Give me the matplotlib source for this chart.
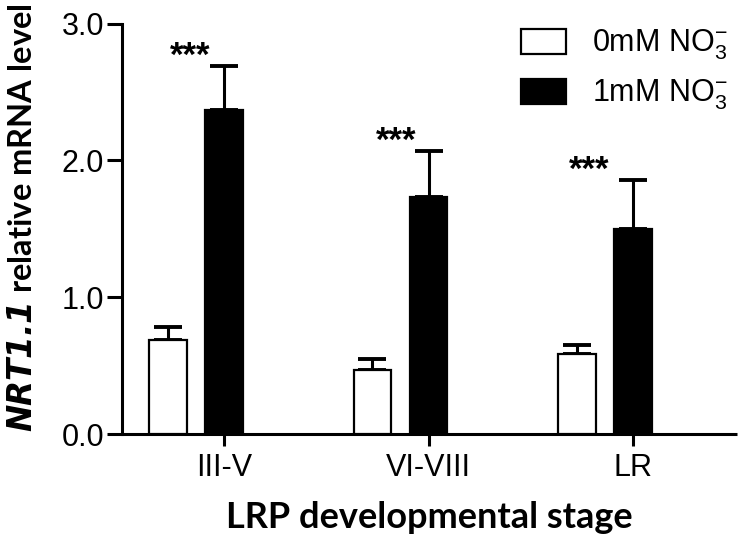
import matplotlib
matplotlib.use("Agg")
import matplotlib.pyplot as plt
import numpy as np

categories = ["III-V", "VI-VIII", "LR"]
series_names = [r"0mM NO$_3^{-}$", r"1mM NO$_3^{-}$"]
means_0mM = [0.69, 0.47, 0.59]
err_0mM = [0.09, 0.08, 0.06]
means_1mM = [2.37, 1.73, 1.50]
err_1mM = [0.32, 0.34, 0.36]
sig_labels = ["***", "***", "***"]
yticks = [0.0, 1.0, 2.0, 3.0]
ytick_labels = ["0.0", "1.0", "2.0", "3.0"]

plt.rcParams["font.family"] = ["Liberation Sans", "DejaVu Sans"]
plt.rcParams["mathtext.fontset"] = "custom"
plt.rcParams["mathtext.rm"] = "Liberation Sans"
plt.rcParams["mathtext.it"] = "Liberation Sans:italic"

fig = plt.figure(figsize=(7.47, 5.43), dpi=100)
ax = fig.add_axes([121.7 / 747, 1 - 434.3 / 543, (737 - 121.7) / 747, (434.3 - 23.5) / 543])

x = np.arange(len(categories))
w = 0.183
off = 0.274
lw = 2.2

ax.bar(x - off, means_0mM, width=w, color="white", edgecolor="black", linewidth=1.6,
       label=series_names[0], zorder=3)
ax.bar(x, means_1mM, width=w, color="black", edgecolor="black", linewidth=1.6,
       label=series_names[1], zorder=3)
ax.errorbar(x - off, means_0mM, yerr=[np.zeros(3), err_0mM], fmt="none", ecolor="black",
            elinewidth=lw, capsize=10, capthick=2.8, zorder=2)
ax.errorbar(x, means_1mM, yerr=[np.zeros(3), err_1mM], fmt="none", ecolor="black",
            elinewidth=lw, capsize=10, capthick=2.8, zorder=2)

star_dx = [-0.165, -0.16, -0.215]
for i in range(len(categories)):
    top = means_1mM[i] + err_1mM[i]
    ax.text(x[i] + star_dx[i], top + 0.0, sig_labels[i], ha="center", va="baseline",
            fontsize=25, fontweight="bold", color="black")

ax.set_xlim(-0.50, 2.508)
ax.set_ylim(0, 3.0)
ax.set_xticks(x)
ax.set_xticklabels(categories, fontsize=22)
ax.set_yticks(yticks)
ax.set_yticklabels(ytick_labels, fontsize=22)

for s in ["top", "right"]:
    ax.spines[s].set_visible(False)
for s in ["left", "bottom"]:
    ax.spines[s].set_linewidth(lw)
ax.spines["bottom"].set_capstyle("butt")
ax.tick_params(axis="y", direction="out", length=10.5, width=lw, pad=2)
ax.tick_params(axis="x", direction="out", length=8.5, width=lw, pad=5)

ax.set_xlabel("LRP developmental stage", fontsize=26, fontweight="bold",
              family=["Lato", "DejaVu Sans"], labelpad=13)
ax.set_ylabel(r"$\bfit{NRT1.1}$ relative mRNA level", fontsize=23.5, fontweight="bold",
              family=["Lato", "DejaVu Sans"])
ax.yaxis.set_label_coords(-0.138, 0.527)

leg = ax.legend(loc="upper left", bbox_to_anchor=(521 / 747, 1 - 28 / 543),
                bbox_transform=fig.transFigure, frameon=False, fontsize=22,
                handlelength=1.47, handleheight=0.88, handletextpad=0.85,
                labelspacing=0.5, borderpad=0, borderaxespad=0)
for h in leg.legend_handles:
    h.set_linewidth(1.6)

fig.savefig("out.png", dpi=100)
